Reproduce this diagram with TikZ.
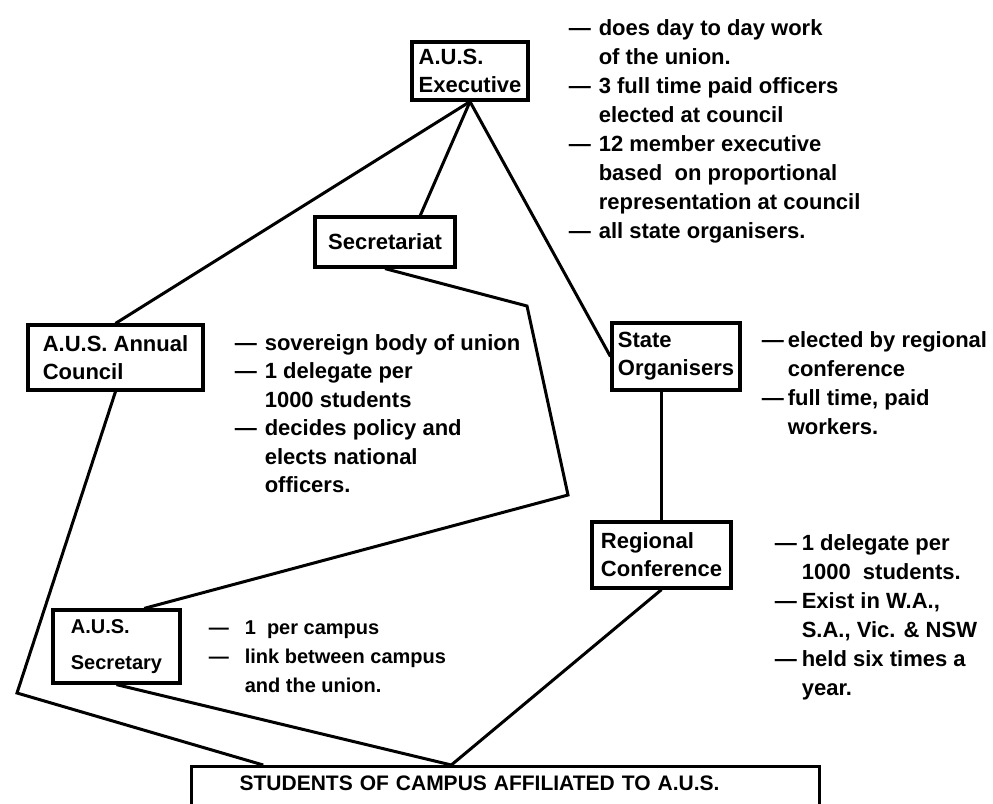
\documentclass[tikz,border=0pt]{standalone}
\usepackage{fontspec}
\setmainfont{Liberation Sans}
\usetikzlibrary{positioning,calc}
\tikzset{
unitbox/.style={
  draw=black,
  line width=3.2pt,
  font=\bfseries\fontsize{22}{28}\selectfont,
  align=left,
  inner sep=0pt
  },
notes/.style={
  inner sep=0pt,
  font=\bfseries\fontsize{22}{29}\selectfont
  },
link/.style={line width=3pt}
}
\newcommand{\notetab}[2]{\begin{tabular}{@{}l@{\hspace{#1}}l@{}}#2\end{tabular}}

\begin{document}
\begin{tikzpicture}[x=1pt,y=-1pt]

\path[use as bounding box] (0,0) rectangle (993,803);
\clip (0,0) rectangle (993,803);

\node[unitbox, minimum width=116pt, minimum height=58pt] (exec) at (470,71)
  {A.U.S.\\Executive};

\node[unitbox, minimum width=140pt, minimum height=50pt] (secretariat) at (385,242)
  {Secretariat};

\node[unitbox, minimum width=175pt, minimum height=65pt] (council) at (115.5,357.5)
  {A.U.S. Annual\\Council};

\node[unitbox, minimum width=128pt, minimum height=67pt] (state) at (676,356.5)
  {State\\Organisers};

\node[unitbox, minimum width=139pt, minimum height=66pt] (regional) at (661.5,555)
  {Regional\\Conference};

\node[unitbox, minimum width=127pt, minimum height=73pt,
  font=\bfseries\fontsize{20}{36}\selectfont] (secretary) at (116.5,646.5)
  {A.U.S.\\Secretary};

\node[unitbox, anchor=north west, text width=532pt, inner xsep=48pt,
  text height=23.5pt, text depth=40pt, font=\bfseries\fontsize{21}{28}\selectfont]
  (students) at (190,765)
  {STUDENTS OF CAMPUS AFFILIATED TO A.U.S.};

\node[notes, below right=-25pt and 39pt of exec.north east] (execnote)
{\notetab{8pt}{
  --- & does day to day work\\
      & of the union.\\
  --- & 3 full time paid officers\\
      & elected at council\\
  --- & 12 member executive\\
      & based\ \ on proportional\\
      & representation at council\\
  --- & all state organisers.}};

\node[notes, below right=7pt and 30pt of council.north east,
  font=\bfseries\fontsize{22}{28.4}\selectfont] (councilnote)
{\notetab{8pt}{
  --- & sovereign body of union\\
  --- & 1 delegate per\\
      & 1000 students\\
  --- & decides policy and\\
      & elects national\\
      & officers.}};

\node[notes, below right=6pt and 20pt of state.north east] (statenote)
{\notetab{4pt}{
  --- & elected by regional\\
      & conference\\
  --- & full time, paid\\
      & workers.}};

\node[notes, below right=10pt and 42pt of regional.north east] (regionalnote)
{\notetab{5pt}{
  --- & 1 delegate per\\
      & 1000\ \ students.\\
  --- & Exist in W.A.,\\
      & S.A., Vic. \& NSW\\
  --- & held six times a\\
      & year.}};

\node[notes, below right=6pt and 27pt of secretary.north east,
  font=\bfseries\fontsize{20}{29}\selectfont] (secretarynote)
{\notetab{16pt}{
  --- & 1\ \ per campus\\
  --- & link between campus\\
      & and the union.}};

\coordinate (bendA) at (527,306);
\coordinate (bendB) at (568,495);
\coordinate (bendC) at (17,693);
\coordinate (hub) at ($(students.north west)!0.414!(students.north east)$);
\coordinate (studentsleft) at ($(students.north west)!0.116!(students.north east)$);

\draw[link] (exec.south) -- (council.north);
\draw[link] (exec.south) -- (secretariat.37);
\draw[link] (exec.south) -- (state.west);
\draw[link] (regional.north |- state.south) -- (regional.north);
\draw[link] (secretariat.south) -- (bendA) -- (bendB) -- (secretary.54);
\draw[link] (council.south) -- (bendC) -- (studentsleft);
\draw[link] (secretary.south) -- (hub);
\draw[link] (regional.south) -- (hub);

\end{tikzpicture}
\end{document}
